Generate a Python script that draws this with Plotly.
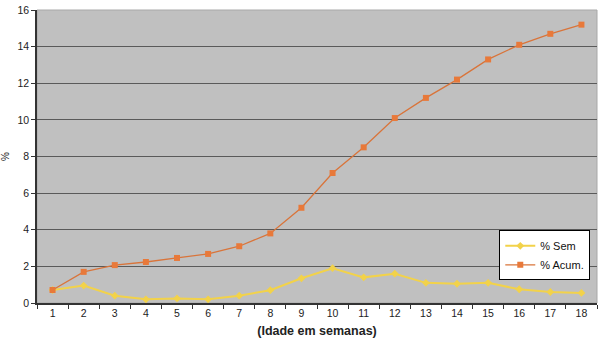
import plotly.graph_objects as go

weeks = [str(i) for i in range(1, 19)]
pct_sem = [0.71, 0.95, 0.4, 0.2, 0.25, 0.2, 0.4, 0.7, 1.35, 1.9, 1.4, 1.6, 1.1, 1.05, 1.1, 0.75, 0.6, 0.55]
pct_acum = [0.71, 1.7, 2.07, 2.24, 2.46, 2.68, 3.1, 3.8, 5.2, 7.1, 8.5, 10.1, 11.2, 12.2, 13.3, 14.1, 14.7, 15.2]
y_ticks = [0, 2, 4, 6, 8, 10, 12, 14, 16]

fig = go.Figure()
fig.add_trace(go.Scatter(
    x=weeks, y=pct_sem, name="% Sem", mode="lines+markers",
    line=dict(color="#F2D24A", width=2), marker=dict(symbol="diamond", size=6, color="#F2D24A"),
))
fig.add_trace(go.Scatter(
    x=weeks, y=pct_acum, name="% Acum.", mode="lines+markers",
    line=dict(color="#D9743A", width=1.3), marker=dict(symbol="square", size=6, color="#E8793A"),
))

font = "Liberation Sans, Arial, sans-serif"
fig.update_layout(
    width=600, height=347,
    margin=dict(l=37, r=3, t=10, b=44, autoexpand=False),
    paper_bgcolor="white", plot_bgcolor="#C0C0C0",
    font=dict(family=font, size=11, color="#222222"),
    showlegend=True,
    legend=dict(x=0.988, y=0.248, xanchor="right", yanchor="top",
                bgcolor="white", bordercolor="#000000", borderwidth=1,
                font=dict(size=11, color="#111111"), tracegroupgap=0,
                itemwidth=30),
    xaxis=dict(type="category", range=[-0.5, 17.5], tickson="boundaries", ticks="outside", ticklen=4,
               tickcolor="#333333", showgrid=False, showline=True, linecolor="#333333",
               linewidth=1.5, tickfont=dict(size=10.5),
               title=dict(text="<b>(Idade em semanas)</b>", font=dict(size=12.5), standoff=8)),
    yaxis=dict(range=[0, 16], tickvals=y_ticks, ticks="outside", ticklen=4, tickcolor="#333333",
               showgrid=True, gridcolor="#5A5A5A", gridwidth=1, showline=True,
               linecolor="#333333", linewidth=1.5, zeroline=False, tickfont=dict(size=10.5),
               title=dict(text="%", font=dict(size=10), standoff=8)),
    shapes=[dict(type="rect", xref="paper", yref="paper", x0=0, x1=1, y0=0, y1=1,
                 line=dict(color="#A8A8A8", width=1), layer="below")],
)
fig.write_html("out.html")
